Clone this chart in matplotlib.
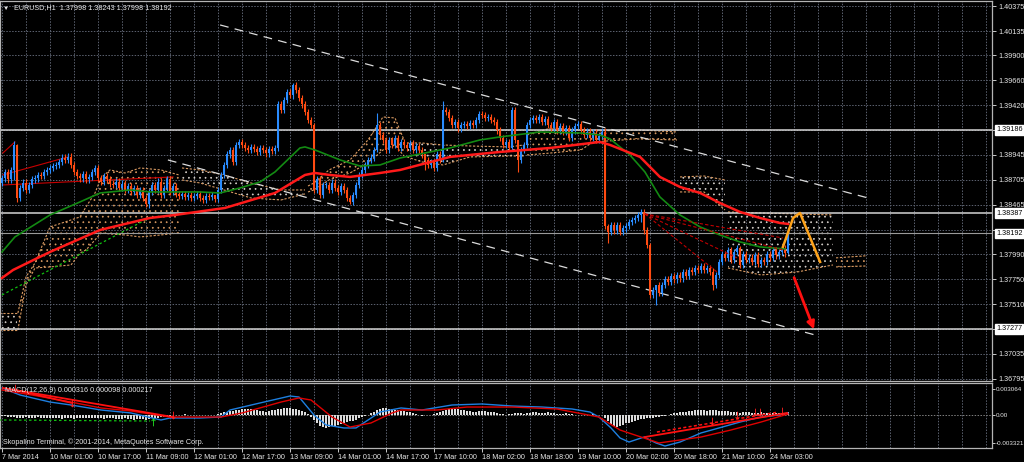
import matplotlib
matplotlib.use('Agg')
import matplotlib.pyplot as plt
import matplotlib.transforms as mtransforms
import numpy as np

plt.rcParams['font.family'] = ['Liberation Sans', 'DejaVu Sans']
plt.rcParams['hatch.linewidth'] = 0.5

# EURUSD H1 closes, one per bar, 7 Mar 2014 -> 24 Mar 2014 03:00
first_open = 1.3868
closes = [
    1.3872, 1.3878, 1.3871, 1.3880, 1.3904, 1.3853, 1.3863, 1.3868, 1.3861,
    1.3866, 1.3871, 1.3872, 1.3875, 1.3874, 1.3878, 1.3880, 1.3882, 1.3884, 1.3885,
    1.3888, 1.3892, 1.3890, 1.3893, 1.3885, 1.3878, 1.3874,
    1.3872, 1.3876, 1.3871, 1.3873, 1.3878, 1.3882, 1.3872, 1.3869,
    1.3874, 1.3871, 1.3867,
    1.3866, 1.3869, 1.3863, 1.3867, 1.3861, 1.3865, 1.3859, 1.3863, 1.3856, 1.3861,
    1.3853, 1.3847, 1.3859,
    1.3866, 1.3861, 1.3869, 1.3856, 1.3863, 1.3871, 1.3859, 1.3865, 1.3857,
    1.3855, 1.3857, 1.3854, 1.3856, 1.3853, 1.3855, 1.3857, 1.3853, 1.3851, 1.3855,
    1.3854, 1.3856, 1.3852,
    1.3861, 1.3875, 1.3885, 1.3895, 1.3899, 1.3888, 1.3904, 1.3907,
    1.3904, 1.3901, 1.3899, 1.3902, 1.3900, 1.3897, 1.3901, 1.3899, 1.3896, 1.3900,
    1.3898, 1.3901,
    1.3943, 1.3938, 1.3947, 1.3955, 1.3952, 1.3962, 1.3957, 1.3949,
    1.3943, 1.3936, 1.3928, 1.3923, 1.3861, 1.3871, 1.3856, 1.3866,
    1.3866, 1.3861, 1.3868, 1.3863, 1.3859, 1.3865, 1.3861,
    1.3853, 1.3849, 1.3856,
    1.3866, 1.3875, 1.3880, 1.3885, 1.3890, 1.3892,
    1.3899, 1.3923, 1.3914, 1.3909,
    1.3899, 1.3909, 1.3904, 1.3911, 1.3901,
    1.3907, 1.3904, 1.3901, 1.3906, 1.3899, 1.3903, 1.3899,
    1.3895, 1.3890, 1.3885, 1.3888, 1.3882, 1.3895, 1.3890,
    1.3938, 1.3936, 1.3930, 1.3923, 1.3926, 1.3920,
    1.3923, 1.3924, 1.3922, 1.3925, 1.3923, 1.3928, 1.3934,
    1.3933, 1.3930, 1.3931, 1.3928, 1.3926,
    1.3918, 1.3911, 1.3904, 1.3907, 1.3901,
    1.3938, 1.3909, 1.3890, 1.3899, 1.3904, 1.3923, 1.3928,
    1.3930, 1.3928, 1.3931, 1.3926, 1.3929,
    1.3923, 1.3920, 1.3926, 1.3918, 1.3922,
    1.3917, 1.3920, 1.3911, 1.3918, 1.3922,
    1.3924, 1.3918, 1.3914, 1.3917,
    1.3911, 1.3916, 1.3909, 1.3913, 1.3917,
    1.3826, 1.3821, 1.3827, 1.3822,
    1.3827, 1.3821, 1.3824, 1.3826,
    1.3830, 1.3832, 1.3834, 1.3837, 1.3840,
    1.3822, 1.3808, 1.3760, 1.3765, 1.3770, 1.3762,
    1.3770, 1.3775, 1.3773, 1.3778, 1.3775,
    1.3779, 1.3776, 1.3782, 1.3778, 1.3784,
    1.3782, 1.3786, 1.3784, 1.3788, 1.3784,
    1.3786, 1.3782, 1.3770, 1.3779,
    1.3792, 1.3799, 1.3796, 1.3803, 1.3794,
    1.3801, 1.3805, 1.3789, 1.3799, 1.3794,
    1.3796, 1.3792, 1.3798, 1.3790, 1.3794, 1.3792,
    1.3799, 1.3796, 1.3803, 1.3798, 1.3801,
    1.3805, 1.3800, 1.38192,
]

# bars with long shadows
spike_bars = [4, 5, 48, 71, 97, 104, 116, 125, 141, 147, 170, 172, 202, 213, 216, 218, 237, 246, 262]
spike_highs = [1.3908, 1.3905, 1.3856, 1.3856, 1.3964, 1.3925, 1.3856, 1.3935, 1.3890, 1.3946,
               1.3941, 1.3904, 1.3828, 1.3843, 1.3810, 1.3770, 1.3786, 1.3807, 1.38243]
spike_lows = [1.3870, 1.3849, 1.3845, 1.3849, 1.3948, 1.3858, 1.3847, 1.3897, 1.3880, 1.3888,
              1.3898, 1.3878, 1.3810, 1.3830, 1.3757, 1.3750, 1.3765, 1.3786, 1.37998]

# moving averages (bar, price)
ma_red_bars = [0, 3.7, 16, 32.7, 49.3, 57.7, 74.3, 91, 101, 104.3, 109.3, 116, 126, 132.7, 149.3,
               166, 182.7, 199.3, 202.7, 212.7, 219.3, 226, 232.7, 239.3, 246, 252.7, 259.3, 262]
ma_red = [1.37764, 1.37841, 1.38014, 1.38225, 1.38340, 1.38369, 1.38436, 1.38580, 1.38753, 1.38772,
          1.38753, 1.38734, 1.38772, 1.38801, 1.38926, 1.38974, 1.39012, 1.39070, 1.39041, 1.38926,
          1.38734, 1.38638, 1.38580, 1.38484, 1.38398, 1.38340, 1.38292, 1.38283]
ma_green_bars = [0, 4.3, 16, 26, 32.7, 42.7, 49.3, 66, 72.7, 79.3, 86, 91, 99.3, 101, 104.3, 106,
                 112.7, 119.3, 126, 132.7, 149.3, 159.3, 166, 179.3, 192.7, 199.3, 202.7, 209.3,
                 214.3, 219.3, 226, 232.7, 239.3, 246, 252.7, 261]
ma_green = [1.38014, 1.38158, 1.38369, 1.38494, 1.38580, 1.38609, 1.38590, 1.38590, 1.38580, 1.38628,
            1.38686, 1.38782, 1.39012, 1.39022, 1.38993, 1.38974, 1.38897, 1.38839, 1.38849, 1.38916,
            1.39012, 1.39089, 1.39118, 1.39166, 1.39156, 1.39137, 1.39099, 1.38945, 1.38782, 1.38542,
            1.38369, 1.38254, 1.38177, 1.38110, 1.38062, 1.38043]

# ichimoku cloud edges ('t' = rising/tan, 'w' = falling/white)
cloud_bars = [-1, 5,
              5.3, 8, 11, 16, 23, 26, 28, 31, 33, 36, 41, 46, 53, 59,
              60, 66, 74, 83, 93, 101,
              102, 104, 109, 116, 122, 127, 131, 134,
              135, 140, 147, 156, 169, 174,
              175, 183, 193, 197, 212, 225,
              226, 234, 241,
              242, 253, 265, 277,
              278, 288]
cloud_top = [1.37428, 1.37428,
             1.37428, 1.37774, 1.37908, 1.38254, 1.38321, 1.38350, 1.38446, 1.38580, 1.38724,
             1.38801, 1.38772, 1.38820, 1.38801, 1.38753,
             1.38820, 1.38801, 1.38753, 1.38676, 1.38609, 1.38609,
             1.38647, 1.38676, 1.38801, 1.38897, 1.39089, 1.39310, 1.39300, 1.39089,
             1.39060, 1.39060, 1.39041, 1.39031, 1.39022, 1.39041,
             1.39137, 1.39204, 1.39185, 1.39175, 1.39185, 1.39166,
             1.38734, 1.38743, 1.38705,
             1.38398, 1.38388, 1.38379, 1.38369,
             1.37957, 1.37977]
cloud_bot = [1.37265, 1.37265,
             1.37265, 1.37697, 1.37860, 1.37870, 1.37889, 1.38004, 1.38033, 1.38129, 1.38197,
             1.38187, 1.38177, 1.38158, 1.38177, 1.38197,
             1.38705, 1.38676, 1.38609, 1.38532, 1.38513, 1.38571,
             1.38590, 1.38609, 1.38705, 1.38772, 1.38868, 1.38993, 1.39041, 1.38935,
             1.38926, 1.38878, 1.38849, 1.38926, 1.38935, 1.38935,
             1.38945, 1.38964, 1.38993, 1.39070, 1.39099, 1.39089,
             1.38590, 1.38590, 1.38417,
             1.37860, 1.37793, 1.37821, 1.37889,
             1.37870, 1.37879]
cloud_kind = ['w'] * 2 + ['t'] * 14 + ['w'] * 6 + ['t'] * 8 + ['w'] * 6 + ['t'] * 6 + \
             ['w'] * 3 + ['w2'] * 4 + ['t2'] * 2

# drawn objects (bar, price)
channel_bars = [(72.7, 288.7), (55.3, 271.0)]
channel_prices = [(1.40193, 1.38532), (1.38897, 1.37217)]
red_trend_bars = [(0.3, 4.3), (0.3, 22.0), (0.3, 57.0)]
red_trend_prices = [(1.38964, 1.39070), (1.38753, 1.38926), (1.38657, 1.38734)]
green_trend_bars = (0, 49.7)
green_trend_prices = (1.37601, 1.38350)
fan_start = (214.3, 1.38379)
fan_end_bars = [260.3, 260.3, 245.0, 238.3]
fan_end_prices = [1.38148, 1.38033, 1.37957, 1.37822]
wave_bars = [260.3, 263.7, 266.0, 272.7]
wave_prices = [1.38062, 1.38340, 1.38388, 1.37918]
arrow_from = (263.7, 1.37793)
arrow_to = (271.0, 1.37246)
levels = [1.39186, 1.38387, 1.37277]
bid = 1.38192

price_ticks = [1.40375, 1.40135, 1.39900, 1.39660, 1.39420, 1.39180, 1.38945, 1.38705,
               1.38465, 1.38225, 1.37990, 1.37750, 1.37510, 1.37270, 1.37035, 1.36795]
hidden_ticks = [1.39180, 1.38225, 1.37270]

time_bars = list(range(0, 257, 16))
time_labels = ['7 Mar 2014', '10 Mar 01:00', '10 Mar 17:00', '11 Mar 09:00', '12 Mar 01:00',
               '12 Mar 17:00', '13 Mar 09:00', '14 Mar 01:00', '14 Mar 17:00', '17 Mar 10:00',
               '18 Mar 02:00', '18 Mar 18:00', '19 Mar 10:00', '20 Mar 02:00', '20 Mar 18:00',
               '21 Mar 10:00', '24 Mar 03:00']

# MACD(12,26,9) in 1e-5 units
macd_hist = [
    -10, -15, -20, -25, -20, -30, -35, -30, -25, -30, -35, -30, -25, -30, -35, -40,
    -35, -30, -35, -40, -45, -40, -35, -40, -45, -40, -35, -30, -35, -40, -35, -30,
    -35, -40, -45, -40, -35, -40, -45, -50, -45, -40, -45, -50, -55, -50, -45, -50,
    -55, -50, -40, -35, -30, -25, -20, -15, -10, -5, 0, 5, 5, 10, 5, 0,
    -5, -5, 0, 5, 0, -5, 0, 5, 15, 25, 35, 40, 45, 50, 55, 60,
    65, 70, 70, 65, 60, 55, 50, 45, 40, 45, 55, 60, 70, 75, 80, 85,
    80, 75, 70, 60, 45, 30, 10, -20, -60, -100, -130, -145, -150, -145, -135, -125,
    -115, -105, -95, -85, -75, -65, -55, -40, -25, -10, 5, 20, 40, 55, 70, 80,
    80, 75, 65, 60, 55, 50, 45, 40, 30, 20, 10, 0, -10, -5, 0, 5,
    10, 20, 35, 50, 60, 65, 70, 70, 65, 60, 55, 50, 45, 40, 40, 45,
    50, 45, 40, 35, 30, 25, 15, 10, 5, 10, 15, 20, 25, 20, 15, 20,
    25, 30, 30, 25, 20, 25, 30, 25, 20, 15, 10, 15, 20, 15, 10, 5,
    5, 0, -5, 0, 5, 10, 5, 0, -5, -30, -70, -110, -135, -140, -130, -115,
    -100, -90, -80, -70, -60, -50, -45, -40, -35, -30, -25, -20, -15, -10, 5, 15,
    20, 25, 30, 35, 40, 45, 50, 55, 60, 60, 55, 50, 55, 60, 55, 50,
    45, 50, 45, 40, 35, 30, 25, 30, 35, 30, 25, 20, 25, 30, 25, 20,
    15, 20, 25, 20, 15, 25, 35,
]
macd_main_bars = [0, 6, 16, 23, 33, 43, 50, 53, 56, 66, 73, 76, 86, 96, 99, 104, 108, 114, 118,
                  121, 126, 133, 140, 150, 160, 170, 180, 190, 196, 199, 203, 206, 209, 214, 218,
                  221, 226, 233, 239, 246, 253, 259, 262]
macd_main = [319, 236, 153, 118, 59, 24, -35, -59, -35, -35, -24, 59, 142, 224, 212, 0, -118, -153,
             -153, -83, 35, 83, 59, 118, 130, 106, 94, 71, 35, -24, -153, -271, -319, -260, -330,
             -366, -319, -212, -153, -83, -24, 0, 24]
macd_signal_bars = [0, 10, 23, 33, 43, 56, 73, 80, 93, 99, 103, 110, 116, 123, 130, 133, 145, 155,
                    170, 185, 199, 206, 213, 219, 226, 233, 243, 253, 262]
macd_signal = [295, 236, 153, 83, 47, -24, -24, 24, 153, 201, 177, -24, -142, -94, 24, 59, 59, 94,
               94, 71, -24, -177, -260, -330, -295, -260, -177, -83, 12]

# divergence marks on MACD window
macd_div_bars = [(0.3, 57.0), (4.3, 23.3), (214.3, 261.7)]
macd_div_vals = [(319, -24), (295, 142), (-260, 24)]
macd_div_dash_bars = (218.3, 258.0)
macd_div_dash_vals = (-201, 30)
macd_down_bars = [4.3, 23.3, 57.0, 236.7, 245.0, 251.0, 252.7, 260.0]
macd_down_vals = [319, 142, 0, -70, 0, 30, 30, 50]
macd_up_bar, macd_up_val = 50.3, -83
green_macd_bars = (-1, 49.3)
green_macd_vals = (-59, -71)

BG = 'black'
FG = '#e8e8e8'
GRID = '#5c6270'
BULL = '#2a8cff'
BEAR = '#ff4b12'
TAN = '#d99a62'
WHITE_CLOUD = '#d8d2cc'
FS = 5.2
dots = (0, (1.5, 1.5))

fig = plt.figure(figsize=(10.24, 4.62), dpi=100, facecolor=BG)
ax = fig.add_axes([0, 81 / 462, 992 / 1024, 380 / 462], facecolor=BG)
am = fig.add_axes([0, 14 / 462, 992 / 1024, 65 / 462], facecolor=BG, sharex=ax)

ax.set_xlim(-0.667, 330)
ax.set_ylim(1.36775, 1.40423)
am.set_ylim(-0.003894, 0.003776)

for a in (ax, am):
    a.set_xticks(np.arange(0, 331, 8), minor=True)
    for s in a.spines.values():
        s.set_color('#b4b4b4')
        s.set_linewidth(0.9)
    a.grid(True, which='both', axis='x', color=GRID, ls=dots, lw=0.7)
    a.set_axisbelow(True)

# main price window
ax.set_yticks(price_ticks)
ax.set_yticklabels(['' if p in hidden_ticks else f'{p:.5f}' for p in price_ticks])
ax.yaxis.tick_right()
ax.grid(True, axis='y', color=GRID, ls=dots, lw=0.7)
ax.tick_params(axis='y', colors=FG, labelsize=FS, length=3, width=0.6, pad=1.5)
ax.tick_params(axis='x', which='both', bottom=False, labelbottom=False)

# cloud
kinds = np.array(cloud_kind)
cb = np.array(cloud_bars)
ct = np.array(cloud_top)
cbo = np.array(cloud_bot)
start = 0
for i in range(1, len(kinds) + 1):
    if i == len(kinds) or kinds[i] != kinds[start]:
        col = TAN if kinds[start].startswith('t') else WHITE_CLOUD
        xs = cb[start:i]
        ax.fill_between(xs, cbo[start:i], ct[start:i], facecolor='none', edgecolor=col,
                        hatch='...', linewidth=0, zorder=1)
        ax.plot(xs, ct[start:i], color=TAN, ls=(0, (2, 1.5)), lw=0.8, zorder=1)
        ax.plot(xs, cbo[start:i], color=TAN, ls=(0, (2, 1.5)), lw=0.8, zorder=1)
        start = i

# level lines
for p in levels:
    ax.axhline(p, color='#d4d4d4', lw=1.1, zorder=2)
ax.axhline(bid, color='#9a9a9a', lw=0.8, zorder=2)

# channel and trend lines
for bars, prices in zip(channel_bars, channel_prices):
    ax.plot(bars, prices, color='#dcdcdc', ls=(0, (7, 5)), lw=0.9, zorder=2)
for bars, prices in zip(red_trend_bars, red_trend_prices):
    ax.plot(bars, prices, color='#c80000', lw=0.8, zorder=2)
ax.plot(green_trend_bars, green_trend_prices, color='#10c010', ls=(0, (2, 2)), lw=0.9, zorder=2)

# moving averages
ax.plot(ma_green_bars, ma_green, color='#138a13', lw=1.2, zorder=4)
ax.plot(ma_red_bars, ma_red, color='#ff1a1a', lw=1.8, zorder=4)

# candles
c = np.array(closes)
x = np.arange(len(c))
o = np.r_[first_open, c[:-1]]
hi = np.maximum(o, c) + 0.0003
lo = np.minimum(o, c) - 0.0003
for b, h, l in zip(spike_bars, spike_highs, spike_lows):
    hi[b] = max(h, o[b], c[b])
    lo[b] = min(l, o[b], c[b])
cols = np.where(c >= o, BULL, BEAR)
ax.vlines(x, lo, hi, colors=cols, lw=0.8, zorder=3)
ax.bar(x, np.maximum(np.abs(c - o), 0.00005), bottom=np.minimum(o, c), width=0.64,
       color=cols, linewidth=0, zorder=3)

# fan lines, wave and arrow
for eb, ep in zip(fan_end_bars, fan_end_prices):
    ax.plot([fan_start[0], eb], [fan_start[1], ep], color='#c00000', ls=(0, (3, 2)), lw=0.8, zorder=5)
ax.plot(wave_bars, wave_prices, color='#ffa31a', lw=1.8, zorder=6)
ax.annotate('', xy=arrow_to, xytext=arrow_from,
            arrowprops=dict(arrowstyle='-|>', color='#ff1010', lw=2, mutation_scale=11), zorder=6)

# boxed price labels
trans = mtransforms.blended_transform_factory(ax.transAxes, ax.transData)
for p in levels + [bid]:
    ax.text(1.004, p, f'{p:.5f}', transform=trans, fontsize=FS, color='black', va='center',
            ha='left', clip_on=False,
            bbox=dict(boxstyle='square,pad=0.18', fc='white', ec='white'))

# MACD window
h = np.array(macd_hist) * 1e-5
am.bar(np.arange(len(h)), h, width=0.5, color='#dcdcdc', linewidth=0, zorder=2)
am.axhline(0, color='#808080', ls=dots, lw=0.7, zorder=1)
am.plot(macd_main_bars, np.array(macd_main) * 1e-5, color='#1e7fe0', lw=1.0, zorder=3)
am.plot(macd_signal_bars, np.array(macd_signal) * 1e-5, color='#e00000', lw=1.0, zorder=3)
for bars, vals in zip(macd_div_bars, macd_div_vals):
    am.plot(bars, np.array(vals) * 1e-5, color='#ff1010', lw=1.3, zorder=4)
am.plot(macd_div_dash_bars, np.array(macd_div_dash_vals) * 1e-5, color='#ff1010',
        ls=(0, (2, 1.5)), lw=1.1, zorder=4)
am.plot(green_macd_bars, np.array(green_macd_vals) * 1e-5, color='#10c010', ls=(0, (2, 2)),
        lw=0.9, zorder=4)
am.scatter(macd_down_bars, np.array(macd_down_vals) * 1e-5, marker=r'$\downarrow$', s=30,
           color='#ff2020', zorder=5, linewidths=0)
am.scatter([macd_up_bar], [macd_up_val * 1e-5], marker=r'$\uparrow$', s=30, color='#20e020',
           zorder=5, linewidths=0)

am.yaxis.tick_right()
am.set_yticks([0.003064, 0.0, -0.003321])
am.set_yticklabels(['0.003064', '0.00', '-0.003321'])
am.tick_params(axis='y', colors=FG, labelsize=4.5, length=2, width=0.6, pad=0.8)
am.set_xticks(time_bars)
am.set_xticklabels(time_labels, ha='left')
am.tick_params(axis='x', which='major', colors=FG, labelsize=FS, length=3, width=0.6, pad=1)
am.tick_params(axis='x', which='minor', length=0)

# captions
fig.text(3 / 1024, 1 - 8 / 462, '\u25bc', color=FG, fontsize=4.5, va='center', ha='left')
fig.text(14 / 1024, 1 - 8 / 462, 'EURUSD,H1  1.37998 1.38243 1.37998 1.38192', color=FG,
         fontsize=FS, va='center', ha='left')
fig.text(5 / 1024, 1 - 390 / 462, 'MACD(12,26,9) 0.000316 0.000098 0.000217', color=FG,
         fontsize=FS, va='center', ha='left')
fig.text(3 / 1024, 1 - 442 / 462, 'Skopalino Terminal, \u00a9 2001-2014, MetaQuotes Software Corp.',
         color=FG, fontsize=FS, va='center', ha='left')

fig.savefig('out.png', dpi=100, facecolor=BG)
